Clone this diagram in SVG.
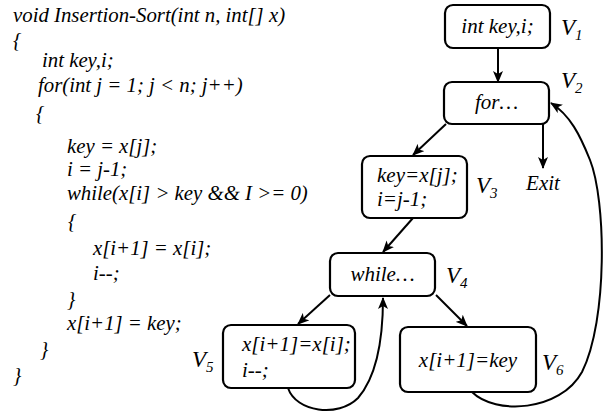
<svg xmlns="http://www.w3.org/2000/svg" width="605" height="412" viewBox="0 0 605 412">
<defs>
<style>
text{font-family:'Liberation Serif','Times New Roman',serif;font-style:italic;fill:#000}
.code{font-size:20.8px}
.nt{font-size:21px}
.lab{font-size:23px}
.sub{font-size:15px}
.box{fill:#fff;stroke:#000;stroke-width:2.2}
.edge{fill:none;stroke:#000;stroke-width:2;marker-end:url(#ah)}
</style>
<marker id="ah" viewBox="0 0 12 10" refX="11" refY="5" markerWidth="12" markerHeight="10" markerUnits="userSpaceOnUse" orient="auto">
<path d="M0,0 L12,5 L0,10 L3,5 z" fill="#000"/>
</marker>
</defs>
<rect width="605" height="412" fill="#fff"/>
<g id="code">
<text class="code" x="13" y="22">void Insertion-Sort(int n, int[] x)</text>
<text class="code" x="13" y="47">{</text>
<text class="code" x="42" y="67">int key,i;</text>
<text class="code" x="38" y="92">for(int j = 1; j &lt; n; j++)</text>
<text class="code" x="36" y="120">{</text>
<text class="code" x="67" y="153">key = x[j];</text>
<text class="code" x="67" y="176">i = j-1;</text>
<text class="code" x="67" y="200">while(x[i] &gt; key &amp;&amp; I &gt;= 0)</text>
<text class="code" x="68" y="228">{</text>
<text class="code" x="93" y="255">x[i+1] = x[i];</text>
<text class="code" x="93" y="280">i--;</text>
<text class="code" x="67" y="306">}</text>
<text class="code" x="67" y="330">x[i+1] = key;</text>
<text class="code" x="40" y="356">}</text>
<text class="code" x="13" y="382">}</text>
</g>
<g id="connectors">
<path class="edge" d="M498,48 L498,82"/>
<path class="edge" d="M446,124 L413,155"/>
<path class="edge" d="M543,124 L543,168"/>
<path class="edge" d="M413,218 L383,252"/>
<path class="edge" d="M330,295 L298,324"/>
<path class="edge" d="M436,295 L467,326"/>
<path class="edge" d="M288,388 C296,412 338,418 358,398 C378,375 383,335 383,298"/>
<path class="edge" d="M472,392 C495,415 560,412 582,372 C608,320 606,200 590,160 C580,135 570,115 551,103"/>
</g>
<g id="V1">
<rect class="box" x="445" y="5" width="105" height="43" rx="8"/>
<text class="nt" x="497.5" y="33" text-anchor="middle">int key,i;</text>
<text class="lab" x="561" y="35">V<tspan class="sub" dy="5">1</tspan></text>
</g>
<g id="V2">
<rect class="box" x="444" y="82" width="105" height="42" rx="8"/>
<text class="nt" x="496.5" y="109" text-anchor="middle">for…</text>
<text class="lab" x="561" y="88">V<tspan class="sub" dy="5">2</tspan></text>
</g>
<g id="V3">
<rect class="box" x="362" y="156" width="105" height="62" rx="8"/>
<text class="nt" x="377" y="182">key=x[j];</text>
<text class="nt" x="377" y="206">i=j-1;</text>
<text class="lab" x="476" y="193">V<tspan class="sub" dy="5">3</tspan></text>
</g>
<g id="Exit">
<text class="nt" x="543" y="190" text-anchor="middle">Exit</text>
</g>
<g id="V4">
<rect class="box" x="330" y="253" width="105" height="43" rx="8"/>
<text class="nt" x="382.5" y="281" text-anchor="middle">while…</text>
<text class="lab" x="446" y="283">V<tspan class="sub" dy="5">4</tspan></text>
</g>
<g id="V5">
<rect class="box" x="223" y="325" width="132" height="63" rx="8"/>
<text class="nt" x="242" y="351">x[i+1]=x[i];</text>
<text class="nt" x="242" y="377">i--;</text>
<text class="lab" x="192" y="367">V<tspan class="sub" dy="5">5</tspan></text>
</g>
<g id="V6">
<rect class="box" x="400" y="327" width="136" height="65" rx="8"/>
<text class="nt" x="468" y="367" text-anchor="middle">x[i+1]=key</text>
<text class="lab" x="542" y="370">V<tspan class="sub" dy="5">6</tspan></text>
</g>
</svg>
